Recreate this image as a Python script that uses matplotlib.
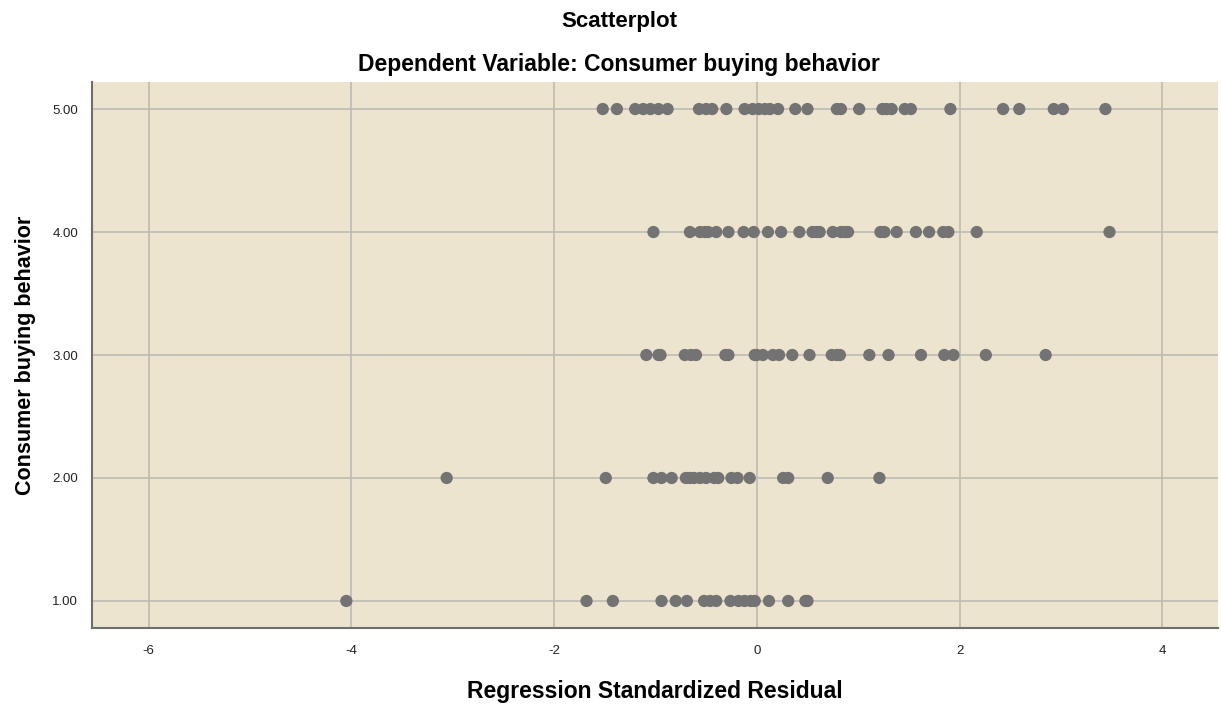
import matplotlib
matplotlib.use('Agg')
import matplotlib.pyplot as plt
import numpy as np

# residuals, one list per level of the dependent variable
resid_5 = [-1.52, -1.38, -1.20, -1.12, -1.05, -0.97, -0.88, -0.57, -0.50, -0.44,
           -0.30, -0.12, -0.04, 0.02, 0.08, 0.13, 0.21, 0.38, 0.50, 0.79, 0.83,
           1.01, 1.24, 1.28, 1.33, 1.46, 1.52, 1.91, 2.43, 2.59, 2.93, 3.02, 3.44]
resid_4 = [-1.02, -0.66, -0.56, -0.51, -0.48, -0.40, -0.28, -0.13, -0.03, 0.11,
           0.24, 0.42, 0.55, 0.59, 0.62, 0.75, 0.83, 0.87, 0.90, 1.22, 1.26,
           1.38, 1.57, 1.70, 1.84, 1.89, 2.17, 3.48]
resid_3 = [-1.09, -0.97, -0.95, -0.71, -0.65, -0.60, -0.31, -0.28, -0.02, 0.00,
           0.06, 0.16, 0.22, 0.35, 0.52, 0.74, 0.79, 0.82, 1.11, 1.30, 1.62,
           1.85, 1.94, 2.26, 2.85]
resid_2 = [-3.06, -1.49, -1.02, -0.94, -0.84, -0.70, -0.66, -0.62, -0.56, -0.50,
           -0.42, -0.38, -0.25, -0.19, -0.07, 0.26, 0.31, 0.70, 1.21]
resid_1 = [-4.05, -1.68, -1.42, -0.94, -0.80, -0.69, -0.52, -0.46, -0.40, -0.26,
           -0.18, -0.12, -0.06, -0.02, 0.12, 0.31, 0.48, 0.50]

levels = [5, 4, 3, 2, 1]
x_ticks = [-6, -4, -2, 0, 2, 4]
y_ticks = [1, 2, 3, 4, 5]

plt.rcParams['font.family'] = ['Liberation Sans', 'DejaVu Sans']

fig = plt.figure(figsize=(12.21, 7.05), dpi=100)
ax = fig.add_axes([0.0753, 0.1092, 0.9222, 0.7745])
ax.set_facecolor('#ECE4CE')

for level, resid in zip(levels, [resid_5, resid_4, resid_3, resid_2, resid_1]):
    ax.scatter(resid, np.full(len(resid), level), s=78, color='#737373',
               edgecolors='none', zorder=3)

ax.set_xlim(-6.56, 4.55)
ax.set_ylim(0.78, 5.22)
ax.set_xticks(x_ticks)
ax.set_xticklabels([str(t) for t in x_ticks])
ax.set_yticks(y_ticks)
ax.set_yticklabels([f'{t:.2f}' for t in y_ticks])
ax.tick_params(axis='x', length=0, labelsize=9.5, pad=12, colors='#222222')
ax.tick_params(axis='y', length=0, labelsize=9.5, pad=10, colors='#222222')
ax.grid(True, color='#BDBAB3', linewidth=1.2)
ax.set_axisbelow(True)

for side in ['top', 'right']:
    ax.spines[side].set_visible(False)
for side in ['left', 'bottom']:
    ax.spines[side].set_color('#6E6E6E')
    ax.spines[side].set_linewidth(1.5)

ax.set_xlabel('Regression Standardized Residual', fontsize=16.5,
              fontweight='bold', labelpad=17)
ax.set_ylabel('Consumer buying behavior', fontsize=15.5, fontweight='bold',
              labelpad=12)

fig.text(0.507, 0.970, 'Scatterplot', ha='center', va='center',
         fontsize=16, fontweight='bold')
fig.text(0.507, 0.909, 'Dependent Variable: Consumer buying behavior',
         ha='center', va='center', fontsize=16.5, fontweight='bold')

fig.savefig('out.png', dpi=100)
